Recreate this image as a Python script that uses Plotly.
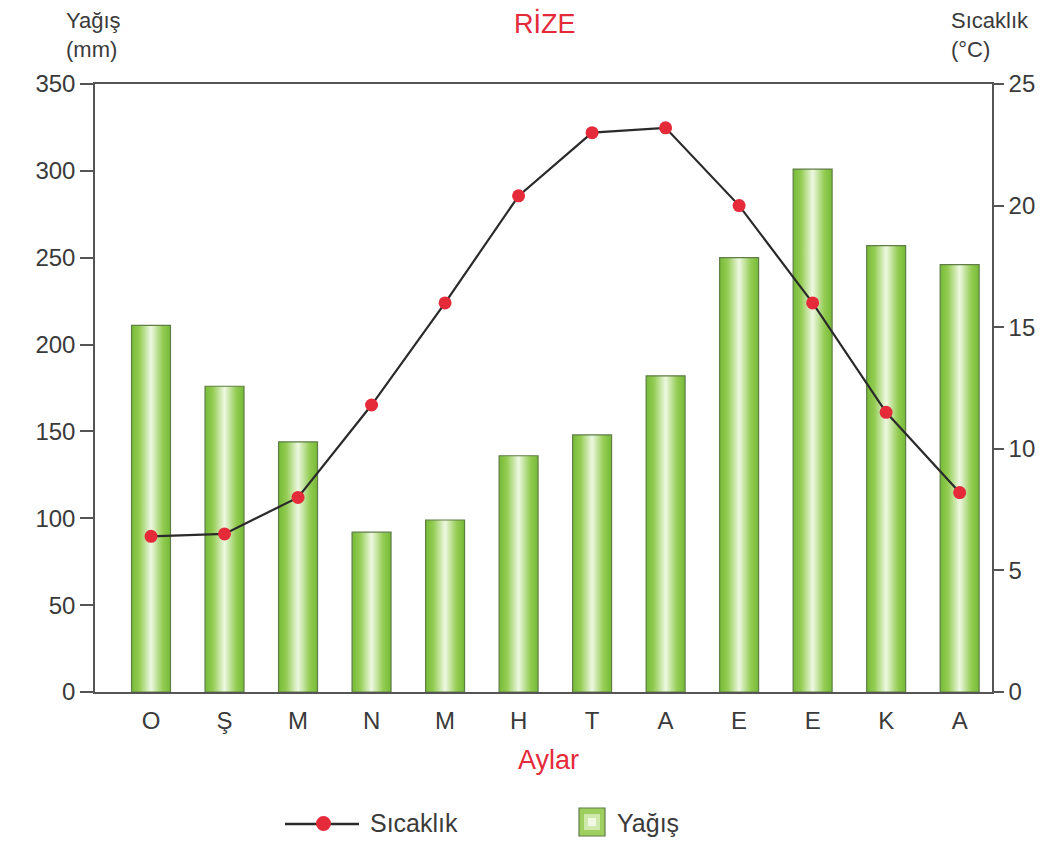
import plotly.graph_objects as go

months = ["O", "Ş", "M", "N", "M", "H", "T", "A", "E", "E", "K", "A"]
precip_mm = [211, 176, 144, 92, 99, 136, 148, 182, 250, 301, 257, 246]
temp_c = [6.4, 6.5, 8.0, 11.8, 16.0, 20.4, 23.0, 23.2, 20.0, 16.0, 11.5, 8.2]

OFF = 8  # page body margin
W, H = 1060 - OFF, 844 - OFF
L, R, T, B = 95, 992, 84, 692  # plot area in screen pixels
BAR_W = 0.53
RED = "#e52a3a"
TXT = "#3a3a3a"
FONT = "Liberation Sans, Arial, sans-serif"

def px_x(p):
    return (p - L) / (R - L)

def px_y(p):
    return (B - p) / (B - T)

grad = [[0, "#76ba37"], [0.2, "#93cc52"], [0.5, "#eef8e2"], [0.8, "#93cc52"], [1, "#76ba37"]]

fig = go.Figure()
for i, v in enumerate(precip_mm):
    x0, x1 = i - BAR_W / 2, i + BAR_W / 2
    fig.add_trace(go.Scatter(
        x=[x0, x1, x1, x0, x0], y=[0, 0, v, v, 0],
        mode="lines", fill="toself",
        fillgradient=dict(type="horizontal", colorscale=grad),
        line=dict(color="#5f7d45", width=1.2),
        showlegend=False, hoverinfo="skip", yaxis="y"))

fig.add_trace(go.Scatter(
    x=list(range(len(months))), y=temp_c, yaxis="y2",
    mode="lines+markers",
    line=dict(color="#2a2a2a", width=2.2),
    marker=dict(color=RED, size=13),
    showlegend=False))

fig.update_layout(
    width=W, height=H,
    margin=dict(l=L - OFF, r=1060 - R, t=T - OFF, b=844 - B),
    paper_bgcolor="white", plot_bgcolor="white",
    font=dict(family=FONT, color=TXT, size=24),
    xaxis=dict(range=[-0.762, 11.44], tickmode="array",
               tickvals=list(range(len(months))), ticktext=months,
               showgrid=False, zeroline=False, showline=True, mirror=True,
               linecolor="#555", linewidth=1.5, ticks="outside",
               ticklen=6, tickcolor="rgba(0,0,0,0)",
               tickfont=dict(size=24, color=TXT)),
    yaxis=dict(range=[0, 350], tickvals=[0, 50, 100, 150, 200, 250, 300, 350],
               showgrid=False, zeroline=False, showline=True,
               linecolor="#555", linewidth=1.5, ticks="outside",
               ticklen=13, tickcolor="#555", tickwidth=1.5,
               tickfont=dict(size=24, color=TXT)),
    yaxis2=dict(range=[0, 25], tickvals=[0, 5, 10, 15, 20, 25],
                overlaying="y", side="right",
                showgrid=False, zeroline=False, showline=True,
                linecolor="#555", linewidth=1.5, ticks="outside",
                ticklen=10, tickcolor="#555", tickwidth=1.5,
                tickfont=dict(size=24, color=TXT)),
)

annos = [
    dict(text="RİZE", x=px_x(545), y=px_y(23), font=dict(size=27, color=RED),
         xanchor="center", yanchor="middle"),
    dict(text="Aylar", x=px_x(548), y=px_y(760), font=dict(size=27, color=RED),
         xanchor="center", yanchor="middle"),
    dict(text="Yağış<br>(mm)", x=px_x(64), y=px_y(35), align="left",
         xanchor="left", yanchor="middle", font=dict(size=22, color=TXT)),
    dict(text="Sıcaklık<br>(°C)", x=px_x(949), y=px_y(35), align="left",
         xanchor="left", yanchor="middle", font=dict(size=22, color=TXT)),
    dict(text="Sıcaklık", x=px_x(368), y=px_y(823), xanchor="left",
         yanchor="middle", font=dict(size=25, color=TXT)),
    dict(text="Yağış", x=px_x(615), y=px_y(823), xanchor="left",
         yanchor="middle", font=dict(size=25, color=TXT)),
]
for a in annos:
    a.update(xref="paper", yref="paper", showarrow=False)
    fig.add_annotation(**a)

# legend symbols
fig.add_shape(type="line", xref="paper", yref="paper",
              x0=px_x(285), x1=px_x(359), y0=px_y(824), y1=px_y(824),
              line=dict(color="#2a2a2a", width=2.5))
fig.add_shape(type="circle", xref="paper", yref="paper",
              x0=px_x(316), x1=px_x(331), y0=px_y(831), y1=px_y(816),
              fillcolor=RED, line=dict(color=RED, width=0))
fig.add_shape(type="rect", xref="paper", yref="paper",
              x0=px_x(579), x1=px_x(605), y0=px_y(836), y1=px_y(808),
              fillcolor="#9fd05f", line=dict(color="#5f7d45", width=1.2))
fig.add_shape(type="rect", xref="paper", yref="paper",
              x0=px_x(584), x1=px_x(600), y0=px_y(830), y1=px_y(814),
              fillcolor="#cfe9ad", line=dict(width=0))
fig.add_shape(type="rect", xref="paper", yref="paper",
              x0=px_x(588), x1=px_x(596), y0=px_y(826), y1=px_y(818),
              fillcolor="#eef8e2", line=dict(width=0))

fig.write_html("out.html")
